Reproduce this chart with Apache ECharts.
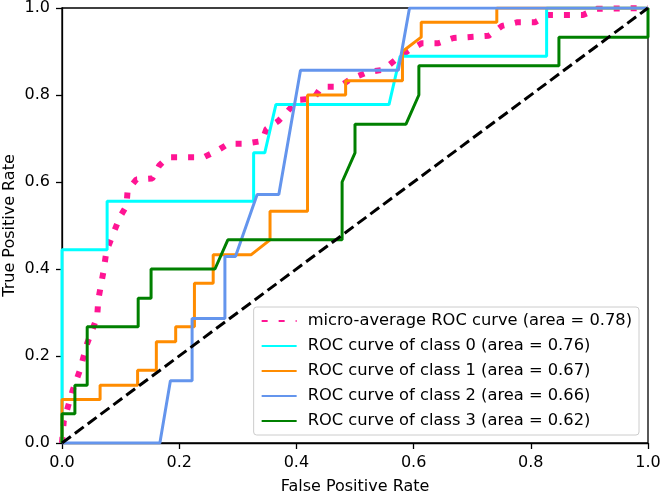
<!DOCTYPE html>
<html>
<head>
    <meta charset="UTF-8">
    <title>ROC</title>
    <style type="text/css">
        html, body { margin: 0; padding: 0; background: #fff; }
        #main { width: 661px; height: 493px; }
    </style>
</head>
<body>
<div id="main"></div>
<script src="https://cdn.jsdelivr.net/npm/echarts@6/dist/echarts.min.js"></script>
<script>
    // micro-average curve
    var microFpr = [0, 0.003, 0.018, 0.03, 0.043, 0.06, 0.062, 0.071, 0.076, 0.081, 0.09, 0.099, 0.11, 0.112, 0.127, 0.154, 0.166, 0.181, 0.242, 0.266, 0.284, 0.312, 0.341, 0.349, 0.369, 0.386, 0.402, 0.429, 0.443, 0.473, 0.493, 0.52, 0.548, 0.571, 0.591, 0.614, 0.642, 0.668, 0.728, 0.751, 0.776, 0.807, 0.83, 0.889, 0.913, 1.0];
    var microTpr = [0, 0.05, 0.12, 0.165, 0.229, 0.29, 0.33, 0.396, 0.443, 0.459, 0.49, 0.52, 0.545, 0.581, 0.606, 0.608, 0.638, 0.657, 0.657, 0.673, 0.688, 0.688, 0.694, 0.722, 0.74, 0.764, 0.789, 0.791, 0.819, 0.819, 0.837, 0.852, 0.858, 0.883, 0.902, 0.919, 0.919, 0.931, 0.936, 0.959, 0.967, 0.967, 0.984, 0.984, 0.998, 1.0];

    var fpr0 = [0, 0, 0.077, 0.077, 0.327, 0.327, 0.346, 0.365, 0.558, 0.577, 0.827, 0.827, 1.0];
    var tpr0 = [0, 0.444, 0.444, 0.556, 0.556, 0.667, 0.667, 0.778, 0.778, 0.889, 0.889, 1.0, 1.0];

    var fpr1 = [0, 0, 0.065, 0.065, 0.129, 0.129, 0.161, 0.161, 0.194, 0.194, 0.226, 0.226, 0.258, 0.258, 0.323, 0.355, 0.355, 0.419, 0.419, 0.484, 0.484, 0.581, 0.581, 0.613, 0.613, 0.742, 0.742, 1.0];
    var tpr1 = [0, 0.1, 0.1, 0.133, 0.133, 0.167, 0.167, 0.233, 0.233, 0.267, 0.267, 0.367, 0.367, 0.433, 0.433, 0.467, 0.533, 0.533, 0.8, 0.8, 0.833, 0.833, 0.9, 0.933, 0.967, 0.967, 1.0, 1.0];

    var fpr2 = [0, 0.167, 0.185, 0.222, 0.222, 0.278, 0.278, 0.296, 0.333, 0.37, 0.407, 0.574, 0.593, 1.0];
    var tpr2 = [0, 0, 0.143, 0.143, 0.286, 0.286, 0.429, 0.429, 0.571, 0.571, 0.857, 0.857, 1.0, 1.0];

    var fpr3 = [0, 0, 0.022, 0.022, 0.043, 0.043, 0.13, 0.13, 0.152, 0.152, 0.261, 0.283, 0.478, 0.478, 0.5, 0.5, 0.587, 0.609, 0.609, 0.848, 0.848, 1.0, 1.0];
    var tpr3 = [0, 0.067, 0.067, 0.133, 0.133, 0.267, 0.267, 0.333, 0.333, 0.4, 0.4, 0.467, 0.467, 0.6, 0.667, 0.733, 0.733, 0.8, 0.867, 0.867, 0.933, 0.933, 1.0];

    var names = [
        'micro-average ROC curve (area = 0.78)',
        'ROC curve of class 0 (area = 0.76)',
        'ROC curve of class 1 (area = 0.67)',
        'ROC curve of class 2 (area = 0.66)',
        'ROC curve of class 3 (area = 0.62)'
    ];
    var colors = ['#ff1493', '#00ffff', '#ff8c00', '#6495ed', '#008000'];
    var xTicks = [0, 0.2, 0.4, 0.6, 0.8, 1.0];

    function pairs(xs, ys) {
        var out = [];
        for (var i = 0; i < xs.length; i++) out.push([xs[i], ys[i]]);
        return out;
    }

    var font = 'DejaVu Sans';
    var myChart = echarts.init(document.getElementById('main'));

    var curves = [[microFpr, microTpr], [fpr0, tpr0], [fpr1, tpr1], [fpr2, tpr2], [fpr3, tpr3]];
    var series = curves.map(function (c, i) {
        return {
            name: names[i],
            type: 'line',
            data: pairs(c[0], c[1]),
            symbol: 'none',
            animation: false,
            itemStyle: { color: colors[i] },
            lineStyle: i === 0
                ? { color: colors[i], width: 6, type: [6, 11], cap: 'butt' }
                : { color: colors[i], width: 3 }
        };
    });
    series.push({
        name: 'chance',
        type: 'line',
        data: [[xTicks[0], xTicks[0]], [xTicks[5], xTicks[5]]],
        symbol: 'none',
        animation: false,
        lineStyle: { color: '#000', width: 3, type: [11, 5] }
    });

    var axisCommon = {
        type: 'value',
        min: 0,
        max: 1,
        interval: 0.2,
        nameLocation: 'middle',
        nameMoveOverlap: false,
        nameTextStyle: { color: '#000', fontFamily: font, fontSize: 16 },
        axisLine: { show: true, lineStyle: { color: '#000', width: 1.3 } },
        axisTick: { show: true, inside: false, length: 6, lineStyle: { color: '#000', width: 1.3 } },
        axisLabel: {
            color: '#000', fontFamily: font, fontSize: 16,
            formatter: function (v) { return v.toFixed(1); }
        },
        splitLine: { show: false }
    };

    var option = {
        animation: false,
        grid: {
            left: 62, right: 13, top: 8, bottom: 50,
            outerBoundsMode: 'none',
            containLabel: false,
            show: true, borderColor: '#000', borderWidth: 1.3, backgroundColor: '#fff'
        },
        xAxis: Object.assign({}, axisCommon, {
            name: 'False Positive Rate', nameGap: 36,
            axisLabel: Object.assign({}, axisCommon.axisLabel, { margin: 12 })
        }),
        yAxis: Object.assign({}, axisCommon, {
            name: 'True Positive Rate', nameGap: 44,
            axisLabel: Object.assign({}, axisCommon.axisLabel, { margin: 12 })
        }),
        legend: {
            data: names,
            orient: 'vertical',
            right: 22,
            bottom: 58,
            itemWidth: 35,
            itemHeight: 14,
            itemGap: 9,
            padding: [6, 7, 6, 7],
            backgroundColor: 'rgba(255,255,255,0.8)',
            borderColor: '#cccccc',
            borderWidth: 1,
            borderRadius: 3,
            itemStyle: { opacity: 0 },
            textStyle: { color: '#000', fontFamily: font, fontSize: 16.3, padding: [0, 0, 0, 6] }
        },
        series: series
    };
    myChart.setOption(option);
</script>
</body>
</html>
